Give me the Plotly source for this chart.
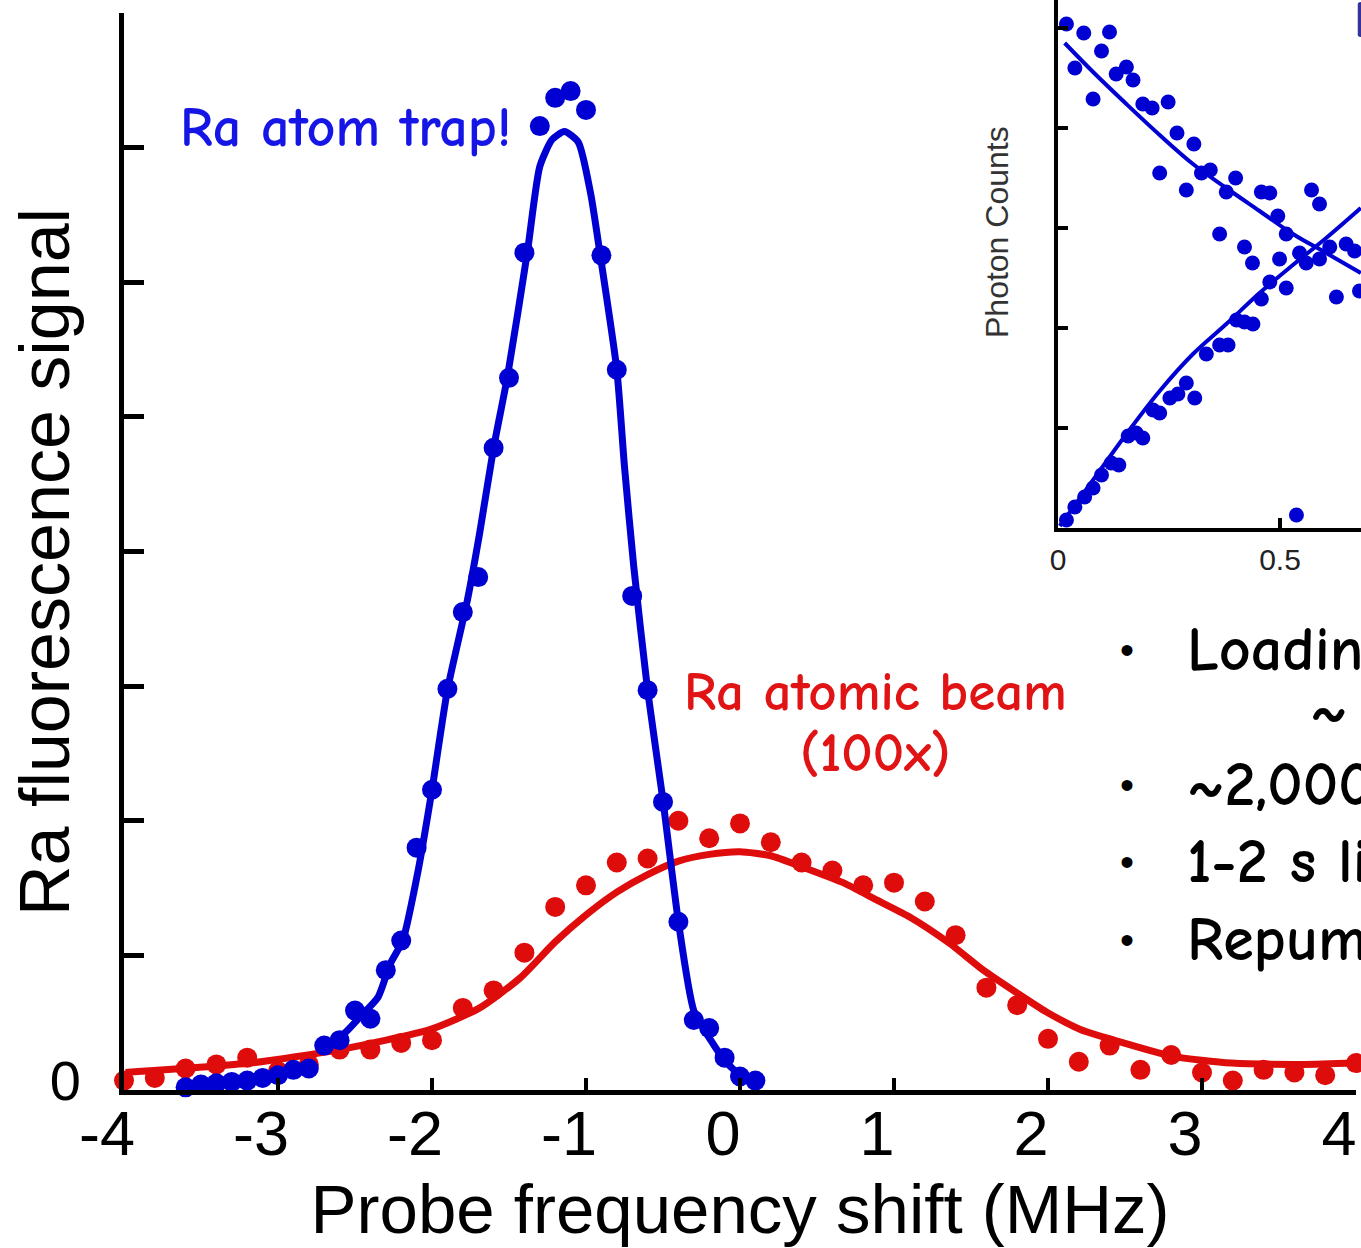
import plotly.graph_objects as go

W, H = 1361, 1248

# ---------------- main panel data ----------------
# Ra atom trap (blue)
trap_x = [-3.6, -3.5, -3.4, -3.3, -3.2, -3.1, -3.0, -2.9, -2.8, -2.7, -2.6, -2.5, -2.4,
          -2.3, -2.2, -2.1, -2.0, -1.9, -1.8, -1.7, -1.6, -1.5, -1.4, -1.3, -1.2, -1.1,
          -1.0, -0.9, -0.8, -0.7, -0.6, -0.5, -0.4, -0.3, -0.2, -0.1, 0.0, 0.1]
trap_y = [0.02, 0.04, 0.05, 0.06, 0.07, 0.09, 0.11, 0.15, 0.16, 0.33, 0.37, 0.59, 0.53,
          0.89, 1.11, 1.80, 2.23, 2.98, 3.55, 3.81, 4.77, 5.29, 6.22, 7.16, 7.37, 7.42,
          7.28, 6.20, 5.35, 3.67, 2.97, 2.14, 1.25, 0.52, 0.46, 0.24, 0.10, 0.07]
trap_fit_x = [-2.71, -2.57, -2.47, -2.35, -2.27, -2.19, -2.09, -2.00, -1.90, -1.77, -1.69,
              -1.60, -1.51, -1.38, -1.30, -1.22, -1.14, -1.05, -0.97, -0.91, -0.80, -0.75,
              -0.69, -0.60, -0.50, -0.40, -0.30, -0.19, -0.10, 0.00, 0.08]
trap_fit_y = [0.32, 0.42, 0.54, 0.69, 0.94, 1.11, 1.63, 2.23, 2.97, 3.64, 4.14,
              4.77, 5.30, 6.23, 6.86, 7.06, 7.12, 7.04, 6.66, 6.22, 5.35, 4.63,
              3.89, 2.97, 2.15, 1.25, 0.59, 0.37, 0.22, 0.11, 0.06]

# Ra atomic beam (red, x100)
beam_x = [-4.0, -3.8, -3.6, -3.4, -3.2, -3.0, -2.8, -2.6, -2.4, -2.2, -2.0, -1.8, -1.6, -1.4,
          -1.2, -1.0, -0.8, -0.6, -0.4, -0.2, 0.0, 0.2, 0.4, 0.6, 0.8, 1.0, 1.2, 1.4,
          1.6, 1.8, 2.0, 2.2, 2.4, 2.6, 2.8, 3.0, 3.2, 3.4, 3.6, 3.8, 4.0]
beam_y = [0.07, 0.09, 0.16, 0.19, 0.24, 0.14, 0.19, 0.30, 0.30, 0.35, 0.37, 0.61, 0.74, 1.02,
          1.36, 1.52, 1.69, 1.72, 2.00, 1.87, 1.98, 1.84, 1.69, 1.63, 1.52, 1.54, 1.40, 1.15,
          0.76, 0.63, 0.38, 0.21, 0.33, 0.15, 0.26, 0.13, 0.07, 0.15, 0.13, 0.11, 0.20]
beam_fit_x = [-3.99, -3.18, -2.60, -2.01, -1.69, -1.43, -1.20, -1.00, -0.80, -0.60, -0.40,
              -0.20, 0.00, 0.20, 0.42, 0.67, 0.89, 1.11, 1.36, 1.58, 1.80, 1.99, 2.21,
              2.49, 2.81, 3.19, 3.66, 4.00]
beam_fit_y = [0.13, 0.20, 0.30, 0.45, 0.61, 0.83, 1.10, 1.30, 1.47, 1.60, 1.70,
              1.75, 1.77, 1.74, 1.65, 1.54, 1.41, 1.28, 1.09, 0.89, 0.72, 0.58, 0.45,
              0.35, 0.25, 0.20, 0.19, 0.20]

x_ticks = [-4, -3, -2, -1, 0, 1, 2, 3, 4]
x_tick_text = ["-4", "-3", "-2", "-1", "0", "1", "2", "3", "4"]
y_label_ticks = [0]
y_label_text = ["0"]

# ---------------- inset data ----------------
decay_t = [0.019, 0.058, 0.116, 0.038, 0.098, 0.079, 0.131, 0.154, 0.169, 0.191, 0.212,
           0.248, 0.229, 0.268, 0.306, 0.289, 0.323, 0.343, 0.364, 0.379, 0.400, 0.420,
           0.438, 0.458, 0.477, 0.495, 0.514, 0.571, 0.589, 0.589, 0.627, 0.679]
decay_counts = [5.04, 4.95, 4.96, 4.60, 4.77, 4.29, 4.54, 4.61, 4.48, 4.24, 4.20,
                4.26, 3.55, 3.95, 3.84, 3.38, 3.55, 3.58, 2.94, 3.36, 3.50, 2.81,
                2.65, 3.36, 3.35, 3.12, 2.94, 3.38, 3.24, 2.69, 2.31, 2.37]
decay_fit_t = [0.015, 0.079, 0.154, 0.229, 0.304, 0.379, 0.454, 0.529, 0.604, 0.682]
decay_fit_counts = [4.85, 4.56, 4.24, 3.93, 3.64, 3.40, 3.17, 2.94, 2.75, 2.55]

load_t = [0.019, 0.038, 0.060, 0.079, 0.098, 0.120, 0.137, 0.158, 0.176, 0.191, 0.214,
          0.229, 0.252, 0.270, 0.289, 0.308, 0.334, 0.364, 0.383, 0.402, 0.420, 0.439,
          0.458, 0.477, 0.499, 0.514, 0.537, 0.544, 0.559, 0.612, 0.649, 0.668]
load_counts = [0.08, 0.21, 0.31, 0.40, 0.53, 0.65, 0.63, 0.92, 0.95, 0.90, 1.18,
               1.15, 1.30, 1.34, 1.45, 1.30, 1.74, 1.83, 1.83, 2.08, 2.06, 2.04,
               2.29, 2.46, 2.69, 2.40, 0.13, 2.75, 2.65, 2.81, 2.84, 2.77]
load_fit_t = [0.004, 0.079, 0.154, 0.229, 0.304, 0.379, 0.454, 0.529, 0.604, 0.682]
load_fit_counts = [0.02, 0.48, 0.94, 1.37, 1.74, 2.04, 2.35, 2.63, 2.90, 3.20]

inset_x_ticks = [0, 0.5]
inset_x_tick_text = ["0", "0.5"]
inset_y_ticks = [1, 2, 3, 4, 5]

BLUE = "#0000d2"
RED = "#df0c0c"
SANS = "Liberation Sans, Arial, sans-serif"
COMIC = "Comic Sans MS, Comic Neue, Lato, sans-serif"

fig = go.Figure()
fig.add_trace(go.Scatter(x=beam_fit_x, y=beam_fit_y, mode="lines",
                         line=dict(color=RED, width=7, shape="spline", smoothing=0.6),
                         cliponaxis=False, showlegend=False))
fig.add_trace(go.Scatter(x=beam_x, y=beam_y, mode="markers",
                         marker=dict(color=RED, size=20), cliponaxis=False, showlegend=False))
fig.add_trace(go.Scatter(x=trap_fit_x, y=trap_fit_y, mode="lines",
                         line=dict(color=BLUE, width=7, shape="spline", smoothing=0.6),
                         cliponaxis=False, showlegend=False))
fig.add_trace(go.Scatter(x=trap_x, y=trap_y, mode="markers",
                         marker=dict(color=BLUE, size=20), cliponaxis=False, showlegend=False))

# inset
fig.add_trace(go.Scatter(x=decay_fit_t, y=decay_fit_counts, mode="lines", xaxis="x2", yaxis="y2",
                         line=dict(color=BLUE, width=4, shape="spline"), showlegend=False))
fig.add_trace(go.Scatter(x=load_fit_t, y=load_fit_counts, mode="lines", xaxis="x2", yaxis="y2",
                         line=dict(color=BLUE, width=4, shape="spline"), showlegend=False))
fig.add_trace(go.Scatter(x=decay_t, y=decay_counts, mode="markers", xaxis="x2", yaxis="y2",
                         marker=dict(color=BLUE, size=15), cliponaxis=False, showlegend=False))
fig.add_trace(go.Scatter(x=load_t, y=load_counts, mode="markers", xaxis="x2", yaxis="y2",
                         marker=dict(color=BLUE, size=15), cliponaxis=False, showlegend=False))


def px(x):
    return x / W


def py(y):
    return 1 - y / H


fig.update_layout(
    width=W, height=H, autosize=False,
    margin=dict(l=0, r=0, t=0, b=0, pad=0),
    paper_bgcolor="white", plot_bgcolor="rgba(0,0,0,0)",
    xaxis=dict(domain=[px(124), px(1356)], range=[-4, 4], anchor="y", automargin=False,
               showline=True, linewidth=5, linecolor="black", mirror=False,
               ticks="inside", ticklen=12, tickwidth=4, tickcolor="black",
               tickvals=x_ticks, ticktext=x_tick_text,
               tickfont=dict(family=SANS, size=63, color="black"),
               ticklabelshift=-17, ticklabelstandoff=-16,
               showgrid=False, zeroline=False,
               title=dict(text="Probe frequency shift (MHz)", standoff=22,
                          font=dict(family=SANS, size=69, color="black"))),
    yaxis=dict(domain=[py(1090), py(13)], range=[0, 8], anchor="x", automargin=False,
               showline=True, linewidth=5, linecolor="black",
               ticks="inside", ticklen=20, tickwidth=5, tickcolor="black",
               tickvals=y_label_ticks, ticktext=y_label_text,
               minor=dict(ticks="inside", ticklen=20, tickwidth=5, tickcolor="black",
                          tick0=0, dtick=1),
               tickfont=dict(family=SANS, size=56, color="black"),
               ticklabelshift=-10, ticklabelstandoff=27,
               showgrid=False, zeroline=False),
    xaxis2=dict(domain=[px(1058), 1.0], range=[0, 0.6824], anchor="y2", automargin=False,
                showline=True, linewidth=4, linecolor="black",
                ticks="inside", ticklen=10, tickwidth=4, tickcolor="black",
                tickvals=inset_x_ticks, ticktext=inset_x_tick_text,
                tickfont=dict(family=SANS, size=30, color="#222"),
                ticklabelstandoff=2,
                showgrid=False, zeroline=False),
    yaxis2=dict(domain=[py(528), 1.0], range=[0, 5.28], anchor="x2", automargin=False,
                showline=True, linewidth=4, linecolor="black",
                ticks="inside", ticklen=10, tickwidth=4, tickcolor="black",
                tickvals=inset_y_ticks, showticklabels=False,
                showgrid=False, zeroline=False),
)

ann = []
ann.append(dict(text="Ra fluorescence signal", x=px(45), y=py(562), textangle=-90,
                font=dict(family=SANS, size=70, color="black")))
ann.append(dict(text="Photon Counts", x=px(997), y=py(232), textangle=-90,
                font=dict(family=SANS, size=32, color="#333")))
ann.append(dict(text="Ra atom trap!", x=px(345), y=py(128),
                font=dict(family=COMIC, size=56, color="#1515e6", weight=600)))
ann.append(dict(text="Ra atomic beam", x=px(875), y=py(692),
                font=dict(family=COMIC, size=55, color="#e01414", weight=600)))
ann.append(dict(text="(100x)", x=px(875), y=py(753),
                font=dict(family=COMIC, size=55, color="#e01414", weight=600)))
for yy in [650, 785, 862, 940]:
    ann.append(dict(text="•", x=px(1127), y=py(yy),
                    font=dict(family=SANS, size=40, color="black")))
bullet_lines = [("Loading efficiency", 1185, 650),
                ("~ 10<sup>-6</sup>", 1308, 705),
                ("~2,000 atoms", 1185, 785),
                ("1-2 s lifetime", 1185, 862),
                ("Repump with blackbody radiation", 1185, 940)]
for t, xx, yy in bullet_lines:
    ann.append(dict(text=t, x=px(xx), y=py(yy), xanchor="left",
                    font=dict(family=COMIC, size=62, color="black", weight=600)))
ann.append(dict(text="Loading", x=px(1352), y=py(20), xanchor="left",
                font=dict(family=COMIC, size=50, color="#33339a", weight=600)))
for a in ann:
    a.setdefault("xanchor", "center")
    a.update(xref="paper", yref="paper", yanchor="middle", showarrow=False)
fig.update_layout(annotations=ann)

fig.write_html("out.html")
